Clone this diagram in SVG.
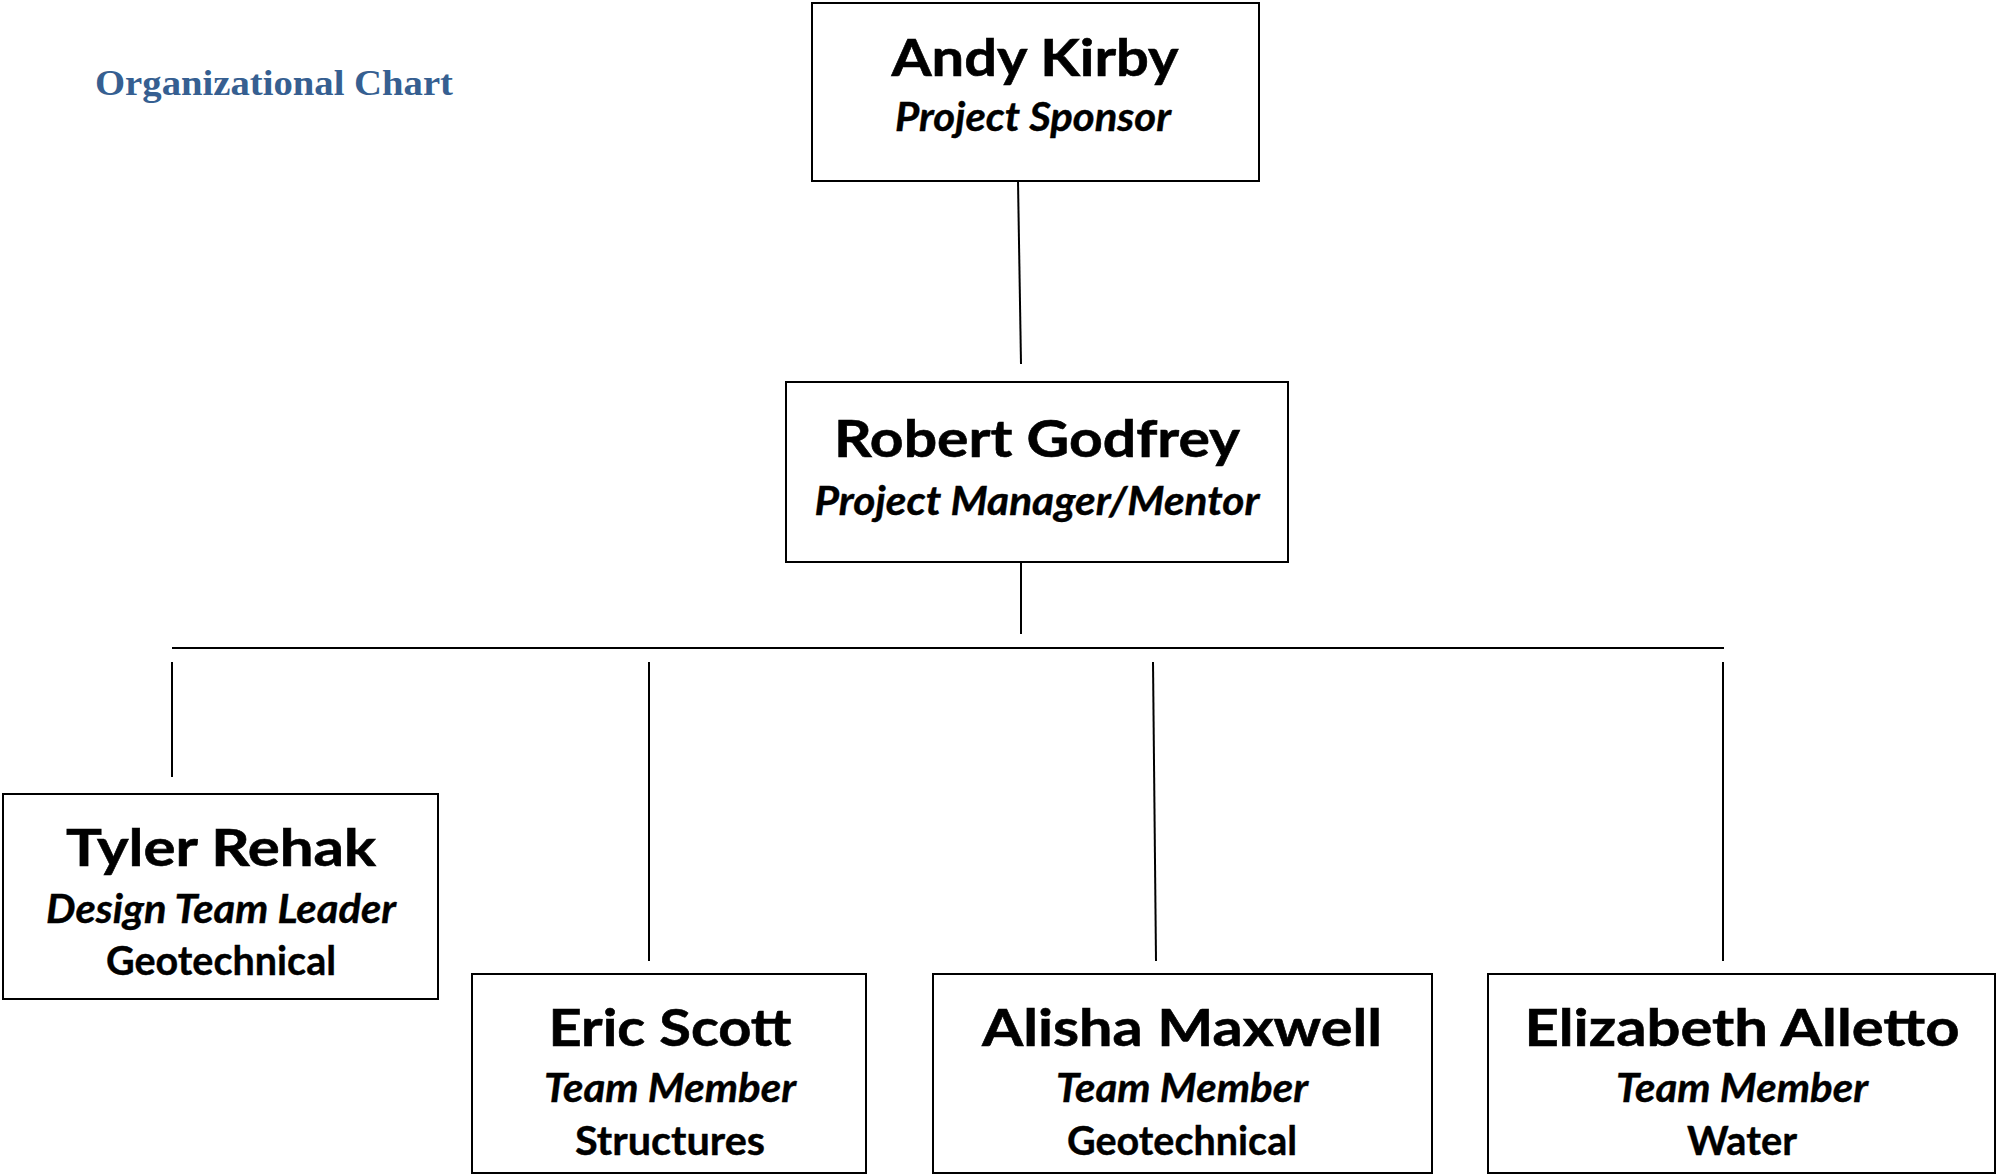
<svg xmlns="http://www.w3.org/2000/svg" width="1997" height="1176" viewBox="0 0 1997 1176">
<style>
.box{fill:#ffffff;stroke:#000000;stroke-width:2}
.conn line{stroke:#000000;stroke-width:2}
.name{font-family:Lato,"Liberation Sans",sans-serif;font-weight:bold;font-size:52px;fill:#000000;stroke:#000000;stroke-width:0.6;text-anchor:middle}
.role{font-family:Lato,"Liberation Sans",sans-serif;font-weight:bold;font-style:italic;font-size:40px;fill:#000000;stroke:#000000;stroke-width:0.4;text-anchor:middle}
.area{font-family:Lato,"Liberation Sans",sans-serif;font-weight:bold;font-size:40px;fill:#000000;stroke:#000000;stroke-width:0.4;text-anchor:middle}
.title{font-family:"Liberation Serif",serif;font-weight:bold;font-size:36px;fill:#365F91}
</style>
<rect width="1997" height="1176" fill="#ffffff"/>
<text class="title" x="95" y="95" textLength="358" lengthAdjust="spacingAndGlyphs">Organizational Chart</text>
<g id="connectors" class="conn">
<line x1="1018" y1="181" x2="1021" y2="364"/>
<line x1="1021" y1="562" x2="1021" y2="634"/>
<line x1="172" y1="648" x2="1724" y2="648"/>
<line x1="172" y1="662" x2="172" y2="777"/>
<line x1="649" y1="662" x2="649" y2="961"/>
<line x1="1153" y1="662" x2="1156" y2="961"/>
<line x1="1723" y1="662" x2="1723" y2="961"/>
</g>
<g id="andy-kirby">
<rect class="box" x="812" y="3" width="447" height="178"/>
<text class="name" x="1035" y="76" textLength="287" lengthAdjust="spacingAndGlyphs">Andy Kirby</text>
<text class="role" x="1033" y="131" textLength="276" lengthAdjust="spacingAndGlyphs">Project Sponsor</text>
</g>
<g id="robert-godfrey">
<rect class="box" x="786" y="382" width="502" height="180"/>
<text class="name" x="1037" y="457" textLength="406" lengthAdjust="spacingAndGlyphs">Robert Godfrey</text>
<text class="role" x="1037" y="515" textLength="445" lengthAdjust="spacingAndGlyphs">Project Manager/Mentor</text>
</g>
<g id="tyler-rehak">
<rect class="box" x="3" y="794" width="435" height="205"/>
<text class="name" x="221" y="866" textLength="310" lengthAdjust="spacingAndGlyphs">Tyler Rehak</text>
<text class="role" x="221" y="923" textLength="350" lengthAdjust="spacingAndGlyphs">Design Team Leader</text>
<text class="area" x="221" y="975" textLength="230" lengthAdjust="spacingAndGlyphs">Geotechnical</text>
</g>
<g id="eric-scott">
<rect class="box" x="472" y="974" width="394" height="199"/>
<text class="name" x="670" y="1046" textLength="243" lengthAdjust="spacingAndGlyphs">Eric Scott</text>
<text class="role" x="670" y="1102" textLength="252" lengthAdjust="spacingAndGlyphs">Team Member</text>
<text class="area" x="670" y="1155" textLength="190" lengthAdjust="spacingAndGlyphs">Structures</text>
</g>
<g id="alisha-maxwell">
<rect class="box" x="933" y="974" width="499" height="199"/>
<text class="name" x="1182" y="1046" textLength="400" lengthAdjust="spacingAndGlyphs">Alisha Maxwell</text>
<text class="role" x="1182" y="1102" textLength="252" lengthAdjust="spacingAndGlyphs">Team Member</text>
<text class="area" x="1182" y="1155" textLength="230" lengthAdjust="spacingAndGlyphs">Geotechnical</text>
</g>
<g id="elizabeth-alletto">
<rect class="box" x="1488" y="974" width="507" height="199"/>
<text class="name" x="1742" y="1046" textLength="435" lengthAdjust="spacingAndGlyphs">Elizabeth Alletto</text>
<text class="role" x="1742" y="1102" textLength="252" lengthAdjust="spacingAndGlyphs">Team Member</text>
<text class="area" x="1742" y="1155" textLength="110" lengthAdjust="spacingAndGlyphs">Water</text>
</g>
</svg>
